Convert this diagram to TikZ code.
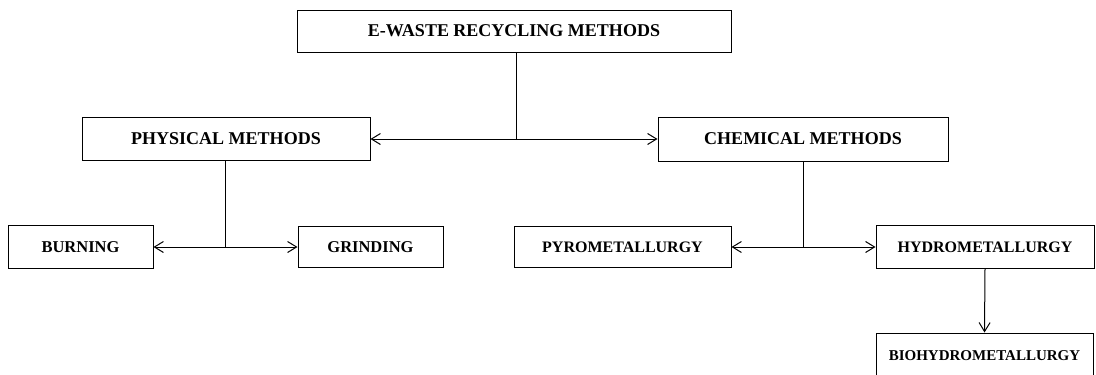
\documentclass[tikz,border=0pt]{standalone}
\usepackage{fontspec}
\setmainfont{Liberation Serif}
\usetikzlibrary{arrows.meta}
\begin{document}
\begin{tikzpicture}[x=1pt,y=-1pt,
  box/.style={draw, line width=1pt, inner sep=0pt, align=center},
  link/.style={line width=1pt},
  arr/.style={line width=1pt, -{Straight Barb[length=9pt,width=11pt,line width=1pt]}}]
\useasboundingbox (0,0) rectangle (1096,375);
\clip (0,0) rectangle (1096,375);

% root
\node[box, minimum width=434pt, minimum height=42pt, font=\fontsize{18}{20}\selectfont\bfseries]
  (top) at (514,31) {E-WASTE RECYCLING METHODS};

% second level
\node[box, minimum width=288pt, minimum height=43pt, font=\fontsize{18}{20}\selectfont\bfseries]
  (phys) at (226,139) {PHYSICAL METHODS};
\node[box, minimum width=290pt, minimum height=44pt, font=\fontsize{18}{20}\selectfont\bfseries]
  (chem) at (803,139) {CHEMICAL METHODS};

% physical branch
\node[box, minimum width=145pt, minimum height=43pt, font=\fontsize{16.5}{18}\selectfont\bfseries]
  (burn) at (80.5,247) {BURNING};
\node[box, minimum width=145pt, minimum height=41pt, font=\fontsize{16.5}{18}\selectfont\bfseries]
  (grind) at (370.5,247) {GRINDING};

% chemical branch
\node[box, minimum width=217pt, minimum height=41pt, font=\fontsize{16}{18}\selectfont\bfseries]
  (pyro) at (622.5,247) {PYROMETALLURGY};
\node[box, minimum width=218pt, minimum height=43pt, font=\fontsize{16}{18}\selectfont\bfseries]
  (hydro) at (985,247) {HYDROMETALLURGY};
\node[box, minimum width=217pt, minimum height=45pt, font=\fontsize{15}{17}\selectfont\bfseries]
  (bio) at (984.5,355.5) {BIOHYDROMETALLURGY};

% junctions
\coordinate (j1) at (516,139);
\coordinate (j2) at (225,247);
\coordinate (j3) at (803,247);

% connectors
\draw[link] (j1 |- top.south) -- (j1);
\draw[arr] (j1) -- (phys.east);
\draw[arr] (j1) -- (chem.west);

\draw[link] (j2 |- phys.south) -- (j2);
\draw[arr] (j2) -- (burn.east);
\draw[arr] (j2) -- (grind.west);

\draw[link] (chem.south) -- (j3);
\draw[arr] (j3) -- (pyro.east);
\draw[arr] (j3) -- (hydro.west);

\draw[arr] (hydro.south) -- (bio.north);
\end{tikzpicture}
\end{document}
